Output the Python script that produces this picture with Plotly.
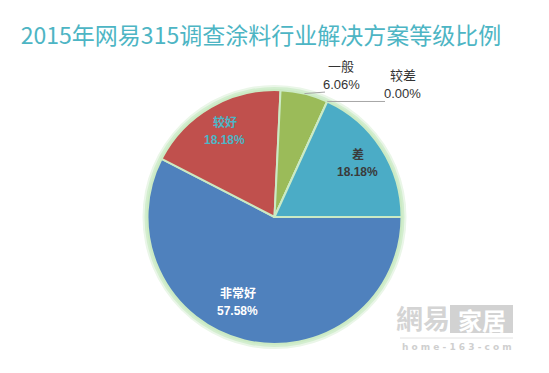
import math
import plotly.graph_objects as go

# ---- data ----
categories = ["非常好", "较好", "一般", "较差", "差"]
counts = [19, 6, 2, 0, 6]
slice_colors = ["#4F81BD", "#C0504D", "#9BBB59", "#8064A2", "#4BACC6"]
title_text = "2015年网易315调查涂料行业解决方案等级比例"

# ---- layout / style ----
W, H = 549, 373
CX, CY, R = 274.5, 217.0, 127.0
ROT = 90.0  # first slice starts at 3 o'clock, clockwise

# per-label style: (radius fraction, angle offset deg, colour, weight, size)
label_style = {
    "非常好": (0.73, 9.6, "#FFFFFF", "bold", 12),
    "较好": (0.78, 0.0, "#4DB6C6", "bold", 12),
    "一般": (1.23, 11.6, "#333333", "normal", 13),
    "较差": (1.45, 19.5, "#333333", "normal", 13),
    "差": (0.78, 0.0, "#3A3A3A", "bold", 12),
}
leader_style = {"一般": (325.0, -1.5), "较差": (385.0, 0.0)}


def px_x(x):
    return x / W


def px_y(y):
    return 1 - y / H


def dom(r):
    return dict(x=[px_x(CX - r), px_x(CX + r)], y=[px_y(CY + r), px_y(CY - r)])


def polar(angle_deg, rad):
    a = math.radians(angle_deg)
    return CX + rad * math.sin(a), CY - rad * math.cos(a)


fig = go.Figure()

# soft glow behind the pie
for extra, col in [(5, "#EAF6E8"), (3, "#D3EECF")]:
    fig.add_trace(go.Pie(values=[1], labels=["glow"], domain=dom(R + extra), sort=False,
                         marker=dict(colors=[col], line=dict(width=0)),
                         textinfo="none", hoverinfo="skip", showlegend=False))

fig.add_trace(go.Pie(
    labels=categories, values=counts, domain=dom(R), sort=False,
    direction="clockwise", rotation=ROT,
    marker=dict(colors=slice_colors, line=dict(color="#CBEAC4", width=2)),
    textinfo="none", hoverinfo="label+percent", showlegend=False,
))

total = sum(counts)
annotations = []
shapes = []
cum = 0.0
for cat, v in zip(categories, counts):
    span = v / total * 360.0
    mid = ROT + cum + span / 2
    cum += span
    rf, dang, col, wt, sz = label_style[cat]
    lx, ly = polar(mid + dang, rf * R)
    pct = f"{v / total * 100:.2f}%"
    fnt = dict(family="Liberation Sans, Noto Sans CJK SC", size=sz, color=col, weight=wt)
    annotations.append(dict(x=px_x(lx), y=px_y(ly), xref="paper", yref="paper", text=cat,
                            showarrow=False, font=fnt, yshift=9, xanchor="center", yanchor="middle"))
    annotations.append(dict(x=px_x(lx), y=px_y(ly), xref="paper", yref="paper", text=pct,
                            showarrow=False, font=fnt, yshift=-9, xanchor="center", yanchor="middle"))
    if cat in leader_style:
        ex, ey = leader_style[cat]
        sx, sy = polar(mid, R)
        shapes.append(dict(type="line", xref="paper", yref="paper",
                           x0=px_x(sx), y0=px_y(sy), x1=px_x(ex), y1=px_y(sy + ey),
                           line=dict(color="#A6A6A6", width=1)))

# watermark
wm = dict(xref="paper", yref="paper", showarrow=False, xanchor="center", yanchor="middle")
annotations += [
    dict(x=px_x(423), y=px_y(317), text="網易",
         font=dict(family="Noto Sans CJK TC", size=27, color="#D4D4D4", weight="bold"), **wm),
    dict(x=px_x(481.5), y=px_y(319), text="家居",
         font=dict(family="Noto Sans CJK TC", size=24, color="#FFFFFF", weight="bold"), **wm),
    dict(x=px_x(457), y=px_y(347), text="h o m e - 1 6 3 - c o m",
         font=dict(family="DejaVu Sans", size=9, color="#CFCFCF", weight="bold"), **wm),
]
shapes.insert(0, dict(type="rect", xref="paper", yref="paper", x0=px_x(450), x1=px_x(513),
                      y0=px_y(333), y1=px_y(305), fillcolor="#D2D2D2", line=dict(width=0), layer="below"))
shapes.append(dict(type="line", xref="paper", yref="paper", x0=px_x(400), x1=px_x(513),
                   y0=px_y(338), y1=px_y(338), line=dict(color="#E2E2E2", width=1)))

fig.update_layout(
    width=W, height=H,
    margin=dict(l=0, r=0, t=0, b=0),
    paper_bgcolor="#FFFFFF", plot_bgcolor="#FFFFFF",
    title=dict(text=title_text, x=px_x(261), y=px_y(36), xanchor="center", yanchor="middle",
               font=dict(family="Noto Sans CJK SC", size=23, color="#4DB5C4")),
    annotations=annotations, shapes=shapes,
)

fig.write_html("out.html", config={"displayModeBar": False},
               post_script="document.body.style.margin='0';document.body.style.overflow='hidden';")
